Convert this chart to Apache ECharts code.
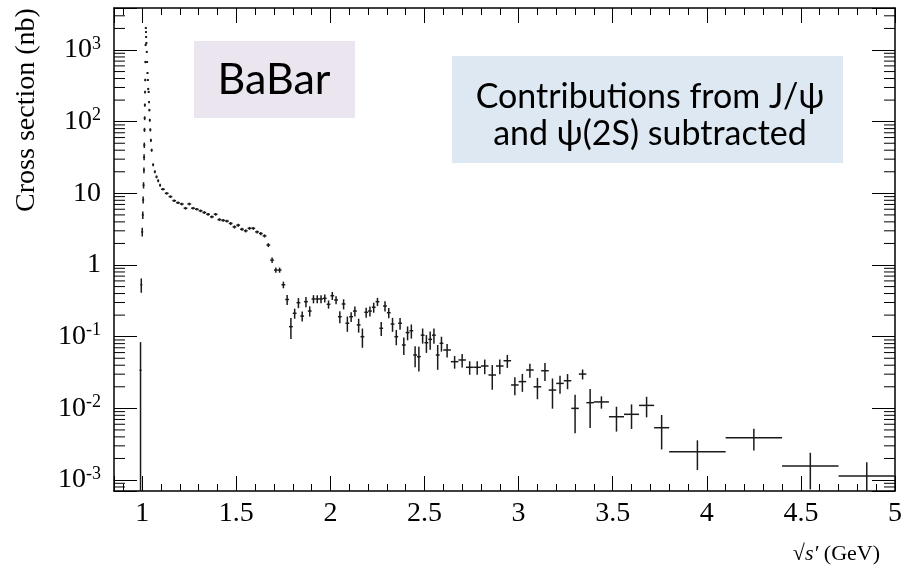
<!DOCTYPE html>
<html>
<head>
<meta charset="utf-8">
<script src="https://cdn.jsdelivr.net/npm/echarts@6/dist/echarts.min.js"></script>
<style>
html,body{margin:0;padding:0;background:#fff;}
#chart{width:905px;height:573px;}
</style>
</head>
<body>
<div id="chart"></div>
<script>
// ---- data ----
const energy = [
  0.991, 0.995, 1.000, 1.003, 1.005, 1.007, 1.009, 1.010, 1.011, 1.012,
  1.013, 1.014, 1.015, 1.016, 1.017, 1.018, 1.019, 1.020, 1.021, 1.022,
  1.024, 1.026, 1.028, 1.030, 1.032, 1.034, 1.036, 1.038, 1.040, 1.043,
  1.046, 1.050, 1.058, 1.067, 1.076, 1.085, 1.095,
  1.11, 1.13, 1.15, 1.17, 1.19, 1.21, 1.23, 1.25, 1.27, 1.29,
  1.31, 1.33, 1.35, 1.37, 1.39, 1.41, 1.43, 1.45, 1.47, 1.49,
  1.51, 1.53, 1.55, 1.57, 1.59, 1.61, 1.63, 1.65, 1.67, 1.69,
  1.71, 1.73, 1.75, 1.77, 1.79, 1.81, 1.83, 1.85, 1.87, 1.89,
  1.91, 1.93, 1.95, 1.97, 1.99, 2.01, 2.03, 2.05, 2.07, 2.09,
  2.11, 2.13, 2.15, 2.17, 2.19, 2.21, 2.23, 2.25, 2.27, 2.29,
  2.31, 2.33, 2.35, 2.37, 2.39, 2.41, 2.43, 2.45, 2.47, 2.49,
  2.51, 2.53, 2.55, 2.57, 2.59,
  2.62, 2.66, 2.70, 2.74, 2.78, 2.82, 2.86, 2.90, 2.94, 2.98,
  3.02, 3.06, 3.10, 3.14, 3.18, 3.22, 3.26, 3.30, 3.34, 3.38,
  3.44, 3.52, 3.60, 3.68, 3.76,
  3.95, 4.25, 4.55, 4.85
];
const xsec = [
  0.034, 0.53, 2.9, 5.0, 8.1, 13, 21, 32, 47, 77,
  112, 171, 259, 381, 680, 1175, 2030, 1780, 1520, 1250,
  940, 680, 478, 381, 286, 260, 188, 145, 105, 77,
  55, 40, 25, 20, 17, 15, 13,
  11.4, 10.0, 9.0, 7.9, 7.4, 7.1, 6.2, 7.1, 6.2, 6.0,
  5.7, 5.4, 5.1, 4.7, 5.1, 4.3, 4.2, 4.1, 3.8, 3.4,
  3.6, 3.15, 3.0, 3.25, 3.25, 2.9, 2.75, 2.55, 1.9, 1.17,
  0.85, 0.85, 0.53, 0.33, 0.138, 0.212, 0.298, 0.194, 0.308, 0.228,
  0.336, 0.336, 0.336, 0.343, 0.283, 0.373, 0.325, 0.19, 0.286, 0.154,
  0.19, 0.228, 0.146, 0.10, 0.219, 0.228, 0.257, 0.308, 0.131, 0.268,
  0.216, 0.150, 0.100, 0.154, 0.0766, 0.114, 0.121, 0.0555, 0.0526, 0.105,
  0.0824, 0.0919, 0.105, 0.0555, 0.0809,
  0.0652, 0.0448, 0.0473, 0.0374, 0.0374, 0.0390, 0.0292, 0.0390, 0.0462, 0.0212,
  0.0236, 0.0343, 0.0200, 0.0335, 0.0180, 0.0223, 0.0243, 0.0100, 0.0301, 0.0120,
  0.0123, 0.00764, 0.00826, 0.0110, 0.00537,
  0.00248, 0.00389, 0.00157, 0.00114
];
const xsecErr = [
  0.05, 0.12, 0.4, 0.6, 0.9, 1.3, 2, 3, 4, 5,
  7, 9, 12, 15, 25, 40, 60, 55, 50, 40,
  30, 22, 16, 13, 10, 9, 7, 6, 5, 4,
  3, 2, 1.2, 1, 0.8, 0.7, 0.6,
  0.45, 0.4, 0.35, 0.32, 0.3, 0.3, 0.27, 0.3, 0.27, 0.26,
  0.25, 0.24, 0.22, 0.21, 0.22, 0.2, 0.2, 0.19, 0.18, 0.17,
  0.17, 0.15, 0.15, 0.15, 0.15, 0.14, 0.14, 0.13, 0.12, 0.1,
  0.07, 0.07, 0.056, 0.053, 0.045, 0.034, 0.048, 0.031, 0.05, 0.037,
  0.044, 0.044, 0.044, 0.044, 0.037, 0.048, 0.042, 0.036, 0.046, 0.037,
  0.03, 0.036, 0.032, 0.03, 0.035, 0.036, 0.041, 0.04, 0.029, 0.043,
  0.035, 0.033, 0.024, 0.029, 0.021, 0.025, 0.027, 0.018, 0.020, 0.025,
  0.023, 0.026, 0.025, 0.021, 0.019,
  0.014, 0.009, 0.010, 0.008, 0.008, 0.009, 0.011, 0.009, 0.0095, 0.006,
  0.0066, 0.0075, 0.0066, 0.0094, 0.0081, 0.0063, 0.0058, 0.0055, 0.0048, 0.0067,
  0.0024, 0.0029, 0.0031, 0.0035, 0.0027,
  0.0011, 0.0013, 0.00083, 0.00063
];
const binHalfWidth = [
  0.002, 0.002, 0.001, 0.001, 0.001, 0.001, 0.001, 0.001, 0.001, 0.001,
  0.001, 0.001, 0.001, 0.001, 0.001, 0.001, 0.001, 0.001, 0.001, 0.001,
  0.001, 0.001, 0.001, 0.001, 0.001, 0.001, 0.001, 0.001, 0.001, 0.001,
  0.001, 0.002, 0.004, 0.004, 0.004, 0.004, 0.005,
  0.01, 0.01, 0.01, 0.01, 0.01, 0.01, 0.01, 0.01, 0.01, 0.01,
  0.01, 0.01, 0.01, 0.01, 0.01, 0.01, 0.01, 0.01, 0.01, 0.01,
  0.01, 0.01, 0.01, 0.01, 0.01, 0.01, 0.01, 0.01, 0.01, 0.01,
  0.01, 0.01, 0.01, 0.01, 0.01, 0.01, 0.01, 0.01, 0.01, 0.01,
  0.01, 0.01, 0.01, 0.01, 0.01, 0.01, 0.01, 0.01, 0.01, 0.01,
  0.01, 0.01, 0.01, 0.01, 0.01, 0.01, 0.01, 0.01, 0.01, 0.01,
  0.01, 0.01, 0.01, 0.01, 0.01, 0.01, 0.01, 0.01, 0.01, 0.01,
  0.01, 0.01, 0.01, 0.01, 0.01,
  0.02, 0.02, 0.02, 0.02, 0.02, 0.02, 0.02, 0.02, 0.02, 0.02,
  0.02, 0.02, 0.02, 0.02, 0.02, 0.02, 0.02, 0.02, 0.02, 0.02,
  0.04, 0.04, 0.04, 0.04, 0.04,
  0.15, 0.15, 0.15, 0.15
];
const xTickValues = [1, 1.5, 2, 2.5, 3, 3.5, 4, 4.5, 5];
const xTickLabels = ['1', '1.5', '2', '2.5', '3', '3.5', '4', '4.5', '5'];
const yTickExponents = [-3, -2, -1, 0, 1, 2, 3];
const yTickLabels = ['{b|10}{s|-3}', '{b|10}{s|-2}', '{b|10}{s|-1}', '{b|1}', '{b|10}', '{b|10}{s|2}', '{b|10}{s|3}'];

// ---- axis ranges ----
const X_MIN = 0.85, X_MAX = 5.0;
const Y_MIN = 0.000703, Y_MAX = 3855;

// minor log ticks (2..9 x 10^n)
const yMinorTicks = [];
for (let n = -4; n <= 3; n++) {
  for (let k = 2; k <= 9; k++) {
    const v = k * Math.pow(10, n);
    if (v > Y_MIN && v < Y_MAX) yMinorTicks.push(v);
  }
}

const points = energy.map((e, i) => [e, xsec[i], xsecErr[i], binHalfWidth[i]]);

const chart = echarts.init(document.getElementById('chart'), null, {renderer: 'canvas'});
const serif = 'Liberation Serif, Times New Roman, serif';

function xLabel(v) {
  for (let i = 0; i < xTickValues.length; i++) {
    if (Math.abs(v - xTickValues[i]) < 1e-6) return xTickLabels[i];
  }
  return '';
}
function yLabel(v) {
  const lg = Math.log10(v);
  const n = Math.round(lg);
  if (Math.abs(lg - n) > 1e-6) return '';
  const idx = yTickExponents.indexOf(n);
  return idx >= 0 ? yTickLabels[idx] : '';
}

const xAxisBase = {
  type: 'value', min: X_MIN, max: X_MAX, splitNumber: 8,
  axisLine: {show: true, onZero: false, lineStyle: {color: '#000', width: 1.5}},
  axisTick: {show: true, inside: true, length: 15, lineStyle: {color: '#000', width: 1}},
  minorTick: {show: true, splitNumber: 5, length: 7, lineStyle: {color: '#000', width: 1}},
  splitLine: {show: false}
};
const yAxisBase = {
  type: 'log', logBase: 10, min: Y_MIN, max: Y_MAX,
  axisLine: {show: true, onZero: false, lineStyle: {color: '#000', width: 1.5}},
  axisTick: {show: true, inside: true, length: 23, lineStyle: {color: '#000', width: 1}},
  minorTick: {show: false},
  splitLine: {show: false}
};

chart.setOption({
  animation: false,
  backgroundColor: '#fff',
  grid: {left: 114, right: 6, top: 8, bottom: 82, containLabel: false},
  xAxis: [
    Object.assign({}, xAxisBase, {
      position: 'bottom',
      axisLabel: {show: true, margin: 9, color: '#000', fontFamily: serif, fontSize: 28, formatter: xLabel}
    }),
    Object.assign({}, xAxisBase, {position: 'top', axisLabel: {show: false}})
  ],
  yAxis: [
    Object.assign({}, yAxisBase, {
      position: 'left',
      axisLabel: {
        show: true, margin: 13, color: '#000', formatter: yLabel,
        rich: {
          b: {fontFamily: serif, fontSize: 28, color: '#000', lineHeight: 30},
          s: {fontFamily: serif, fontSize: 18, color: '#000', lineHeight: 18, padding: [0, 0, 12, 0]}
        }
      }
    }),
    Object.assign({}, yAxisBase, {position: 'right', axisLabel: {show: false}})
  ],
  graphic: [
    {type: 'rect', shape: {x: 194, y: 41, width: 161, height: 77}, style: {fill: '#ebe5ef'}, z: 0},
    {type: 'text', x: 274, y: 80, style: {text: 'BaBar', fill: '#000', font: '43px Lato, "Open Sans", sans-serif', textAlign: 'center', textVerticalAlign: 'middle'}, z: 1},
    {type: 'rect', shape: {x: 452, y: 56, width: 391, height: 107}, style: {fill: '#dee8f2'}, z: 0},
    {type: 'text', x: 650, y: 97, style: {text: 'Contributions from J/ψ', fill: '#000', font: '34px Lato, "Open Sans", sans-serif', textAlign: 'center', textVerticalAlign: 'middle'}, z: 1},
    {type: 'text', x: 650, y: 134, style: {text: 'and ψ(2S) subtracted', fill: '#000', font: '34px Lato, "Open Sans", sans-serif', textAlign: 'center', textVerticalAlign: 'middle'}, z: 1},
    {type: 'text', x: 27, y: 110, rotation: Math.PI / 2, style: {text: 'Cross section (nb)', fill: '#000', font: '28px "Liberation Serif", serif', textAlign: 'center', textVerticalAlign: 'middle'}},
    {type: 'text', x: 880, y: 554, style: {
      text: '{a|√}{i|s′}{a| (GeV)}', textAlign: 'right', textVerticalAlign: 'middle',
      rich: {
        a: {fontFamily: serif, fontSize: 22, color: '#000'},
        i: {fontFamily: serif, fontSize: 22, fontStyle: 'italic', color: '#000'}
      }
    }}
  ],
  series: [
    {
      type: 'custom', name: 'minorTicksY', silent: true, clip: false,
      xAxisIndex: 0, yAxisIndex: 0,
      data: yMinorTicks.map(v => [X_MIN, v]),
      encode: {x: 0, y: 1},
      renderItem: function (params, api) {
        const v = api.value(1);
        const p = api.coord([X_MIN, v]);
        const cs = params.coordSys;
        const st = {stroke: '#000', lineWidth: 1};
        return {type: 'group', children: [
          {type: 'line', shape: {x1: cs.x, y1: p[1], x2: cs.x + 11, y2: p[1]}, style: st},
          {type: 'line', shape: {x1: cs.x + cs.width - 11, y1: p[1], x2: cs.x + cs.width, y2: p[1]}, style: st}
        ]};
      }
    },
    {
      type: 'custom', name: 'Cross section', clip: true,
      xAxisIndex: 0, yAxisIndex: 0,
      data: points,
      encode: {x: 0, y: 1},
      renderItem: function (params, api) {
        const x = api.value(0), y = api.value(1), e = api.value(2), hw = api.value(3);
        const c = api.coord([x, y]);
        const lo = api.coord([x, Math.max(y - e, Y_MIN)]);
        const hi = api.coord([x, y + e]);
        const l = api.coord([x - hw, y]);
        const r = api.coord([x + hw, y]);
        const st = {stroke: '#1a1a1a', lineWidth: 1.5};
        let y1 = hi[1], y2 = lo[1];
        if (y2 - y1 < 2) { y1 = c[1] - 1; y2 = c[1] + 1; }
        let x1 = l[0], x2 = r[0];
        if (x2 - x1 < 2) { x1 = c[0] - 1; x2 = c[0] + 1; }
        return {type: 'group', children: [
          {type: 'line', shape: {x1: c[0], y1: y1, x2: c[0], y2: y2}, style: st},
          {type: 'line', shape: {x1: x1, y1: c[1], x2: x2, y2: c[1]}, style: st}
        ]};
      }
    }
  ]
});
</script>
</body>
</html>
